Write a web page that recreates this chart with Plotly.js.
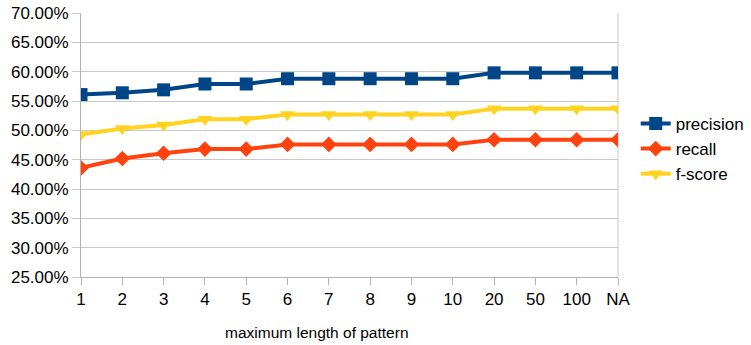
<!DOCTYPE html>
<html>
<head>
<meta charset="utf-8">
<script src="https://cdn.plot.ly/plotly-3.0.1.min.js"></script>
<style>html,body{margin:0;padding:0;background:#fff;}#chart{width:751px;height:345px;}</style>
</head>
<body>
<div id="chart"></div>
<script>
var tickLabels = ["1","2","3","4","5","6","7","8","9","10","20","50","100","NA"];
var precision = [0.561, 0.564, 0.569, 0.579, 0.579, 0.588, 0.588, 0.588, 0.588, 0.588, 0.598, 0.598, 0.598, 0.598];
var recall    = [0.436, 0.452, 0.461, 0.468, 0.468, 0.476, 0.476, 0.476, 0.476, 0.476, 0.484, 0.484, 0.484, 0.484];
var fscore    = [0.493, 0.503, 0.509, 0.519, 0.519, 0.527, 0.527, 0.527, 0.527, 0.527, 0.537, 0.537, 0.537, 0.537];
var yTicks = [0.25,0.30,0.35,0.40,0.45,0.50,0.55,0.60,0.65,0.70];
var xTitle = "maximum length of pattern";

var font = "Liberation Sans, Arial, sans-serif";
function trace(name, vals, color, symbol, size) {
  return {
    type: "scatter", mode: "lines+markers", name: name,
    x: tickLabels, y: vals,
    line: {color: color, width: 4},
    marker: {color: color, symbol: symbol, size: size}
  };
}
var data = [
  trace("precision", precision, "#004586", "square", 13),
  trace("recall", recall, "#ff420e", "diamond", 12),
  trace("f-score", fscore, "#ffd320", "triangle-down", 13)
];
var layout = {
  width: 751, height: 345,
  margin: {l: 81, r: 133, t: 13, b: 68, pad: 0, autoexpand: false},
  paper_bgcolor: "#ffffff", plot_bgcolor: "#ffffff",
  font: {family: font, color: "#000000", size: 17},
  showlegend: true,
  legend: {x: 1.033, xanchor: "left", y: 0.485, yanchor: "middle",
           font: {family: font, size: 17, color: "#000"}, bgcolor: "rgba(0,0,0,0)",
           tracegroupgap: 0},
  xaxis: {
    type: "category", categoryorder: "array", categoryarray: tickLabels,
    range: [0, tickLabels.length - 1],
    showgrid: false, zeroline: false,
    showline: true, linecolor: "#b3b3b3", linewidth: 1, mirror: false,
    ticks: "outside", ticklen: 7, tickcolor: "#b3b3b3", tickwidth: 1,
    tickfont: {family: font, size: 17, color: "#000"}
  },
  yaxis: {
    range: [0.25, 0.70], tickvals: yTicks, tickformat: ".2%",
    showgrid: true, gridcolor: "#c8c8c8", gridwidth: 1, zeroline: false,
    showline: true, linecolor: "#b3b3b3", linewidth: 1, mirror: false,
    ticks: "outside", ticklen: 8, tickcolor: "#c8c8c8", tickwidth: 1,
    tickfont: {family: font, size: 17, color: "#000"}
  },
  shapes: [
    {type: "line", xref: "paper", yref: "paper", x0: 1, x1: 1, y0: 0, y1: 1,
     line: {color: "#c8c8c8", width: 1}, layer: "below"}
  ],
  annotations: [
    {text: xTitle, xref: "paper", yref: "paper", x: 0.44, y: 0, yshift: -55,
     xanchor: "center", yanchor: "middle", showarrow: false,
     font: {family: font, size: 15.5, color: "#000"}}
  ]
};
Plotly.newPlot("chart", data, layout, {displayModeBar: false, staticPlot: true});
</script>
</body>
</html>
